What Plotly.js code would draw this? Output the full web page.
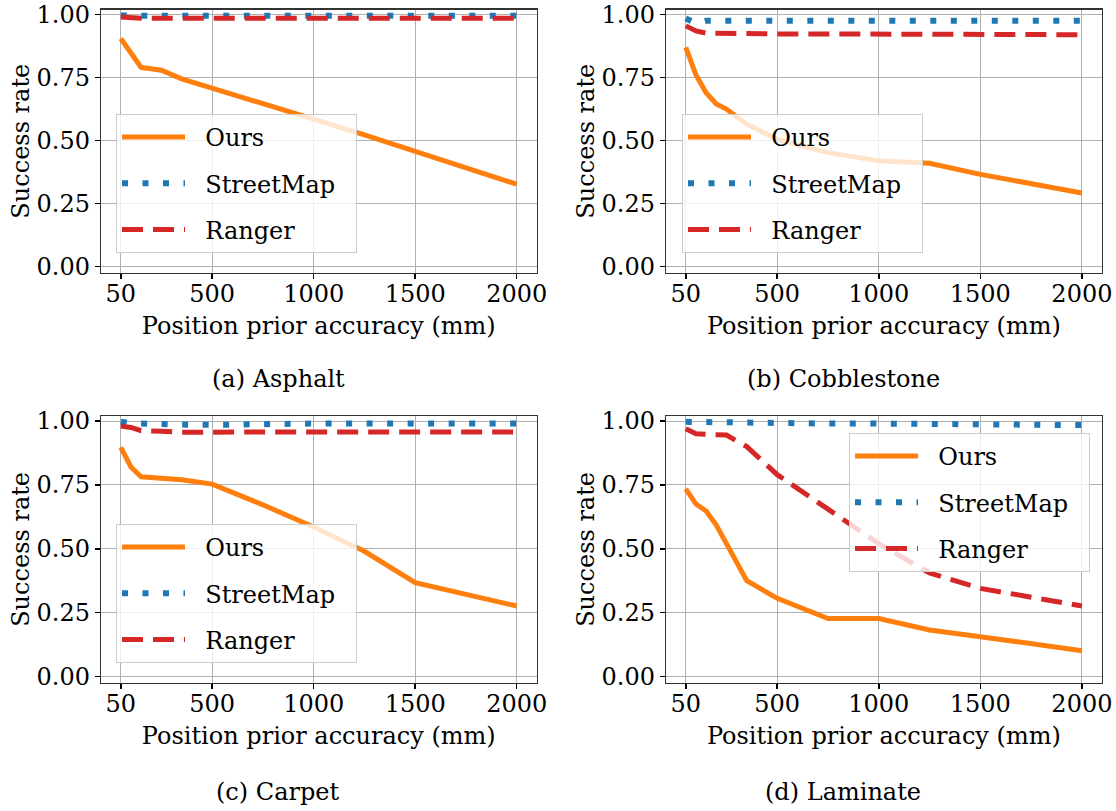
<!DOCTYPE html>
<html>
<head>
<meta charset="utf-8">
<script src="https://cdn.plot.ly/plotly-3.0.1.min.js"></script>
<style>html,body{margin:0;padding:0;background:#fff;}#chart{width:1116px;height:811px;}</style>
</head>
<body>
<div id="chart"></div>
<script>
// ---- data ----
const xPrior = [50, 100, 150, 200, 250, 350, 500, 750, 1000, 1250, 1500, 2000];
const xTickVals = [50, 500, 1000, 1500, 2000];
const xTickText = ['50', '500', '1000', '1500', '2000'];
const yTickVals = [0, 0.25, 0.5, 0.75, 1.0];
const yTickText = ['0.00', '0.25', '0.50', '0.75', '1.00'];
const seriesNames = ['Ours', 'StreetMap', 'Ranger'];
const panelCaptions = ['(a) Asphalt', '(b) Cobblestone', '(c) Carpet', '(d) Laminate'];

const asphaltOurs      = [0.905, 0.848, 0.790, 0.785, 0.779, 0.745, 0.707, 0.646, 0.585, 0.523, 0.458, 0.327];
const asphaltStreetMap = [0.996, 0.995, 0.995, 0.995, 0.995, 0.995, 0.995, 0.995, 0.995, 0.995, 0.995, 0.995];
const asphaltRanger    = [0.990, 0.986, 0.985, 0.985, 0.985, 0.985, 0.985, 0.985, 0.985, 0.985, 0.985, 0.985];

const cobbleOurs      = [0.870, 0.760, 0.690, 0.645, 0.625, 0.565, 0.505, 0.452, 0.420, 0.410, 0.366, 0.292];
const cobbleStreetMap = [0.985, 0.965, 0.975, 0.975, 0.975, 0.975, 0.975, 0.975, 0.975, 0.975, 0.975, 0.975];
const cobbleRanger    = [0.955, 0.935, 0.926, 0.925, 0.924, 0.924, 0.923, 0.923, 0.922, 0.921, 0.921, 0.920];

const carpetOurs      = [0.897, 0.820, 0.782, 0.780, 0.778, 0.770, 0.753, 0.672, 0.585, 0.490, 0.367, 0.276];
const carpetStreetMap = [0.997, 0.990, 0.990, 0.988, 0.988, 0.986, 0.985, 0.990, 0.990, 0.990, 0.990, 0.990];
const carpetRanger    = [0.980, 0.975, 0.962, 0.962, 0.960, 0.956, 0.955, 0.957, 0.957, 0.957, 0.957, 0.957];

const laminateOurs      = [0.734, 0.675, 0.648, 0.593, 0.520, 0.375, 0.306, 0.227, 0.227, 0.182, 0.156, 0.101];
const laminateStreetMap = [0.997, 0.995, 0.995, 0.995, 0.995, 0.993, 0.990, 0.990, 0.990, 0.988, 0.987, 0.984];
const laminateRanger    = [0.970, 0.950, 0.948, 0.948, 0.945, 0.900, 0.790, 0.655, 0.520, 0.405, 0.345, 0.276];

// ---- styling ----
const FONT = 'DejaVu Serif, Liberation Serif, serif';
const FS = 24;
const NB = '\u00a0';
const lineStyles = [
  {color: '#ff7f0e', width: 5, dash: 'solid'},
  {color: '#1f77b4', width: 6, dash: '6px,14.5px'},
  {color: '#d62728', width: 5, dash: '21px,10px'}
];

const panels = [
  [asphaltOurs, asphaltStreetMap, asphaltRanger],
  [cobbleOurs, cobbleStreetMap, cobbleRanger],
  [carpetOurs, carpetStreetMap, carpetRanger],
  [laminateOurs, laminateStreetMap, laminateRanger]
];

const traces = [];
panels.forEach((series, p) => {
  const suffix = p === 0 ? '' : String(p + 1);
  series.forEach((ys, s) => {
    traces.push({
      type: 'scatter', mode: 'lines',
      x: xPrior, y: ys,
      name: NB + NB + seriesNames[s] + NB + NB,
      xaxis: 'x' + suffix, yaxis: 'y' + suffix,
      legend: 'legend' + suffix,
      legendgroup: 'g' + p + '_' + s,
      line: lineStyles[s]
    });
  });
});

const W = 1116, H = 811;
const xDomA = [101 / W, 536.5 / W];
const xDomB = [666 / W, 1101.7 / W];
const yDomTop = [(H - 272.9) / H, (H - 9.5) / H];
const yDomBot = [(H - 682.9) / H, (H - 415.9) / H];

function xAxis(domain, anchor) {
  return {
    domain: domain, anchor: anchor,
    range: [-47.5, 2097.5],
    tickmode: 'array', tickvals: xTickVals, ticktext: xTickText,
    ticks: 'outside', ticklen: 5, tickwidth: 1.5, tickcolor: '#000',
    ticklabelstandoff: -6, ticklabeloverflow: 'allow',
    showline: true, linecolor: '#333', linewidth: 1.2, mirror: true,
    showgrid: true, gridcolor: '#b0b0b0', gridwidth: 1, zeroline: false,
    tickfont: {family: FONT, size: FS, color: '#000'},
    title: {text: 'Position prior accuracy (mm)', font: {family: FONT, size: FS, color: '#000'}, standoff: 10},
    automargin: false
  };
}
function yAxis(domain, anchor) {
  return {
    domain: domain, anchor: anchor,
    range: [-0.025, 1.02],
    tickmode: 'array', tickvals: yTickVals, ticktext: yTickText,
    ticks: 'outside', ticklen: 5, tickwidth: 1.5, tickcolor: '#000',
    ticklabeloverflow: 'allow',
    showline: true, linecolor: '#333', linewidth: 1.2, mirror: true,
    showgrid: true, gridcolor: '#b0b0b0', gridwidth: 1, zeroline: false,
    tickfont: {family: FONT, size: FS, color: '#000'},
    title: {text: 'Success rate', font: {family: FONT, size: FS, color: '#000'}, standoff: 0},
    automargin: false
  };
}
function legendAt(px, py) {
  return {
    x: px / W, y: (H - py) / H, xanchor: 'left', yanchor: 'top',
    bgcolor: 'rgba(255,255,255,0.8)', bordercolor: '#cccccc', borderwidth: 1,
    font: {family: FONT, size: FS, color: '#000'},
    itemwidth: 63, traceorder: 'grouped', tracegroupgap: 12
  };
}

const captionY = [(H - 379) / H, (H - 379) / H, (H - 792) / H, (H - 792) / H];
const captionX = [278 / W, 843 / W, 278 / W, 843 / W];

const layout = {
  width: W, height: H,
  margin: {l: 0, r: 0, t: 0, b: 0},
  paper_bgcolor: '#fff', plot_bgcolor: '#fff',
  showlegend: true,
  xaxis: xAxis(xDomA, 'y'), yaxis: yAxis(yDomTop, 'x'),
  xaxis2: xAxis(xDomB, 'y2'), yaxis2: yAxis(yDomTop, 'x2'),
  xaxis3: xAxis(xDomA, 'y3'), yaxis3: yAxis(yDomBot, 'x3'),
  xaxis4: xAxis(xDomB, 'y4'), yaxis4: yAxis(yDomBot, 'x4'),
  legend: legendAt(116, 114),
  legend2: legendAt(682, 114),
  legend3: legendAt(116, 524),
  legend4: legendAt(849, 433),
  annotations: panelCaptions.map((t, i) => ({
    text: t, xref: 'paper', yref: 'paper', x: captionX[i], y: captionY[i],
    xanchor: 'center', yanchor: 'middle', showarrow: false,
    font: {family: FONT, size: FS, color: '#000'}
  }))
};

Plotly.newPlot('chart', traces, layout, {displayModeBar: false, staticPlot: true});
</script>
</body>
</html>
